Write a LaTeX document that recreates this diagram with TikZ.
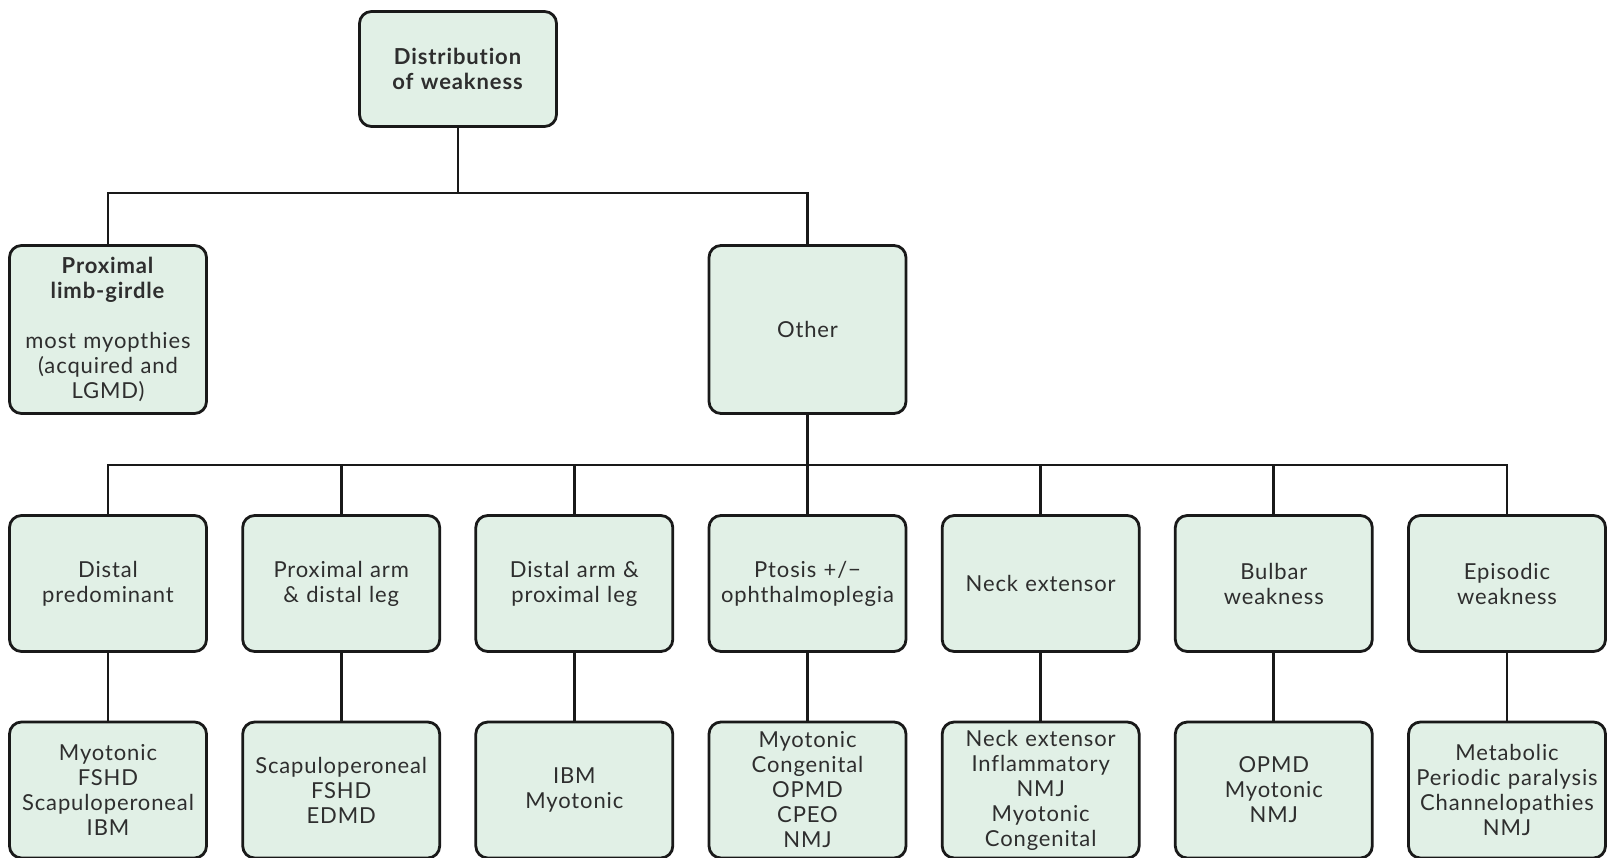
\documentclass[tikz,border=0pt]{standalone}
\usepackage{fontspec}
\setmainfont{Lato}[Ligatures={NoCommon}, LetterSpace=4]
\definecolor{boxfill}{HTML}{E1F0E6}
\definecolor{boxtext}{HTML}{2E2E2E}
\begin{document}
\begin{tikzpicture}[x=1pt,y=-1pt,
  box/.style={draw=black!90, fill=boxfill, line width=2.8pt, rounded corners=12pt,
    minimum width=197pt, minimum height=136pt, text width=196pt, align=center,
    inner sep=0pt, text=boxtext, font=\fontsize{22}{25}\selectfont},
  link/.style={draw=black!90, line width=2.8pt}]
\useasboundingbox (0,0) rectangle (1613,857);

% root and first level
\node[box, minimum height=115pt] (root) at (458,69) {\textbf{Distribution}\\\textbf{of weakness}};
\node[box, minimum height=168pt] (prox) at (108,329.5) {\textbf{Proximal}\\\textbf{limb-girdle}\\[25pt]most myopthies\\(acquired and\\LGMD)};
\node[box, minimum height=168pt] (other) at (807.5,329.5) {Other};

% second level
\node[box] (d1) at (108,583.5) {Distal\\predominant};
\node[box] (d2) at (341.2,583.5) {Proximal arm\\\& distal leg};
\node[box] (d3) at (574.3,583.5) {Distal arm \&\\proximal leg};
\node[box] (d4) at (807.5,583.5) {Ptosis +/\textminus\\ophthalmoplegia};
\node[box] (d5) at (1040.7,583.5) {Neck extensor};
\node[box] (d6) at (1273.8,583.5) {Bulbar\\weakness};
\node[box] (d7) at (1507,583.5) {Episodic\\weakness};

% third level (runs past the lower edge)
\node[box] (e1) at (108,790) {Myotonic\\FSHD\\Scapuloperoneal\\IBM};
\node[box] (e2) at (341.2,790) {Scapuloperoneal\\FSHD\\EDMD};
\node[box] (e3) at (574.3,790) {IBM\\Myotonic};
\node[box] (e4) at (807.5,790) {Myotonic\\Congenital\\OPMD\\CPEO\\NMJ};
\node[box] (e5) at (1040.7,790) {Neck extensor\\Inflammatory\\NMJ\\Myotonic\\Congenital};
\node[box] (e6) at (1273.8,790) {OPMD\\Myotonic\\NMJ};
\node[box] (e7) at (1507,790) {Metabolic\\Periodic paralysis\\Channelopathies\\NMJ};

% connectors
\coordinate (j1) at (458,193);
\draw[link] (root.south) -- (j1);
\draw[link] (prox.north) |- (j1) -| (other.north);
\coordinate (j2) at (807.5,465);
\draw[link] (other.south) -- (j2);
\foreach \i in {1,...,7}{
  \draw[link] (d\i.north) |- (j2);
  \draw[link] (d\i.south) -- (e\i.north);
}
\end{tikzpicture}
\end{document}
